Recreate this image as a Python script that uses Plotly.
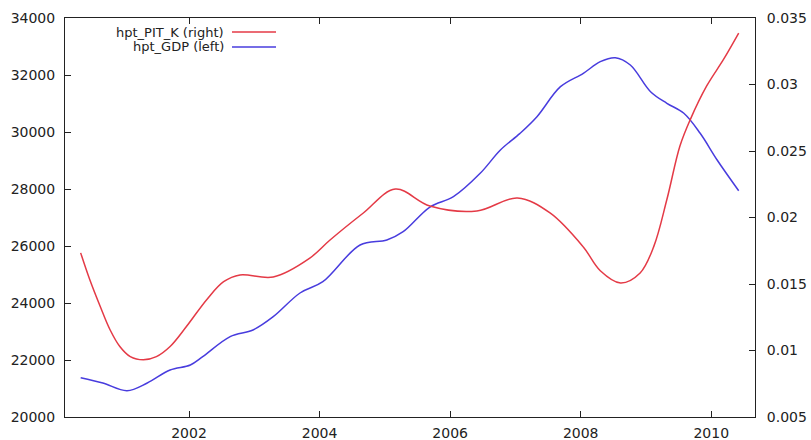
import plotly.graph_objects as go

# hpt_PIT_K (right axis)
pit_dates = [2000.34, 2000.48, 2000.64, 2000.79, 2000.94, 2001.10, 2001.30, 2001.50,
             2001.71, 2001.96, 2002.27, 2002.53, 2002.78, 2003.29, 2003.85, 2004.16,
             2004.67, 2005.16, 2005.69, 2006.41, 2007.03, 2007.53, 2008.04, 2008.30,
             2008.61, 2008.91, 2009.12, 2009.32, 2009.52, 2009.68, 2009.93, 2010.19,
             2010.42]
pit_values = [0.01734, 0.01532, 0.01331, 0.01156, 0.01030, 0.00954, 0.00930, 0.00954,
              0.01030, 0.01180, 0.01382, 0.01517, 0.01568, 0.01553, 0.01695, 0.01831,
              0.02034, 0.02214, 0.02086, 0.02049, 0.02147, 0.02034, 0.01778, 0.01600,
              0.01508, 0.01583, 0.01783, 0.02135, 0.02537, 0.02738, 0.02989, 0.03190,
              0.03386]

# hpt_GDP (left axis)
gdp_dates = [2000.34, 2000.68, 2001.05, 2001.36, 2001.71, 2002.02, 2002.21, 2002.63,
             2002.98, 2003.29, 2003.70, 2004.05, 2004.62, 2005.03, 2005.28, 2005.69,
             2006.05, 2006.46, 2006.77, 2007.07, 2007.33, 2007.69, 2008.04, 2008.30,
             2008.53, 2008.76, 2009.07, 2009.32, 2009.58, 2009.83, 2010.09, 2010.42]
gdp_values = [21379, 21193, 20923, 21193, 21649, 21825, 22116, 22818,
              23053, 23519, 24351, 24747, 26035, 26210, 26502, 27368,
              27730, 28550, 29368, 29953, 30538, 31590, 32060, 32467,
              32607, 32351, 31414, 31007, 30656, 29954, 29018, 27940]

x_ticks = [2002, 2004, 2006, 2008, 2010]
left_ticks = [20000, 22000, 24000, 26000, 28000, 30000, 32000, 34000]
left_tick_text = ["20000", "22000", "24000", "26000", "28000", "30000", "32000", "34000"]
right_ticks = [0.005, 0.01, 0.015, 0.02, 0.025, 0.03, 0.035]
right_tick_text = ["0.005", "0.01", "0.015", "0.02", "0.025", "0.03", "0.035"]

RED = "rgb(228,58,70)"
BLUE = "rgb(72,60,222)"
FONT = "DejaVu Sans"

fig = go.Figure()
fig.add_trace(go.Scatter(x=pit_dates, y=pit_values, yaxis="y2", mode="lines",
                         name="hpt_PIT_K (right)",
                         line=dict(color=RED, width=1.5, shape="spline", smoothing=1.0),
                         showlegend=False))
fig.add_trace(go.Scatter(x=gdp_dates, y=gdp_values, yaxis="y", mode="lines",
                         name="hpt_GDP (left)",
                         line=dict(color=BLUE, width=1.5, shape="spline", smoothing=1.0),
                         showlegend=False))

axis_common = dict(showgrid=False, zeroline=False, showline=True, linecolor="#222",
                   linewidth=1, ticks="inside", ticklen=6, tickcolor="#222",
                   automargin=False,
                   tickfont=dict(family=FONT, size=14, color="#222"))

fig.update_layout(
    template="none",
    width=811, height=440,
    margin=dict(l=65, r=56, t=18, b=23, autoexpand=False),
    paper_bgcolor="white", plot_bgcolor="white",
    font=dict(family=FONT, size=14, color="#222"),
    xaxis=dict(range=[2000.10, 2010.67], tickvals=x_ticks, mirror="ticks",
               ticklabelstandoff=3, **axis_common),
    yaxis=dict(range=[20000, 34000], tickvals=left_ticks, ticktext=left_tick_text,
               mirror=True, ticklabelstandoff=6, **axis_common),
    yaxis2=dict(range=[0.005, 0.035], tickvals=right_ticks, ticktext=right_tick_text,
                overlaying="y", side="right", ticklabelstandoff=8, **axis_common),
)

# Legend drawn gnuplot-style: right-aligned text followed by a line sample
legend_items = [("hpt_PIT_K (right)", RED, 32), ("hpt_GDP (left)", BLUE, 47)]
for label, color, ypx in legend_items:
    yp = 1 - (ypx - 18) / 399.0
    fig.add_annotation(x=(225 - 65) / 690.0, y=yp, xref="paper", yref="paper",
                       text=label, showarrow=False, xanchor="right", yanchor="middle",
                       borderpad=0,
                       font=dict(family=FONT, size=13, color="#222"))
    fig.add_shape(type="line", xref="paper", yref="paper",
                  x0=(232 - 65) / 690.0, x1=(276 - 65) / 690.0, y0=yp, y1=yp,
                  line=dict(color=color, width=1.5))

fig.write_html(
    "out.html",
    config={"displayModeBar": False},
    post_script="document.body.style.margin='0';document.body.style.overflow='hidden';",
)
